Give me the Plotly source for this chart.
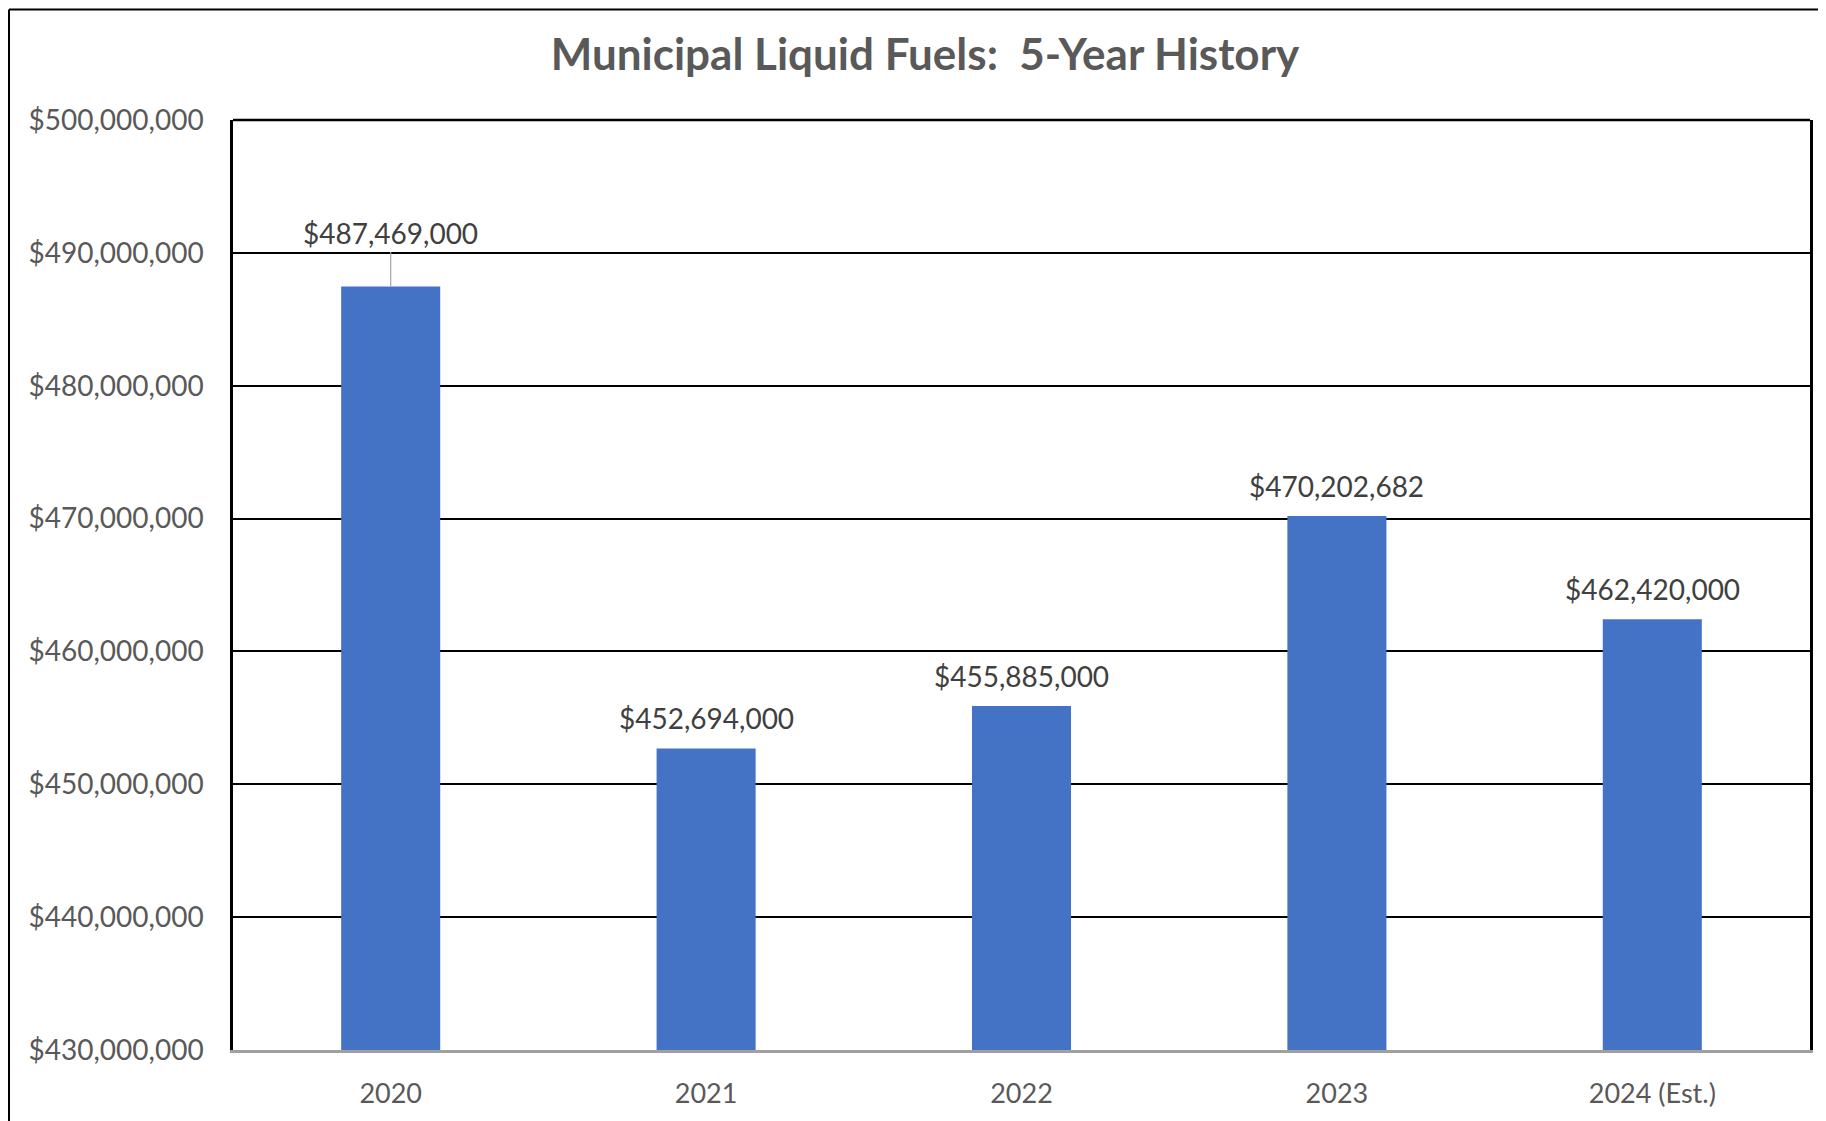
import plotly.graph_objects as go

categories = ["2020", "2021", "2022", "2023", "2024 (Est.)"]
values = [487469000, 452694000, 455885000, 470202682, 462420000]
y_tick_values = [430000000, 440000000, 450000000, 460000000, 470000000, 480000000, 490000000, 500000000]
title_text = "Municipal Liquid Fuels:&nbsp; 5-Year History"

# page body has an 8px margin, so figure coords = page coords - 8
W, H = 1818, 1113
L, R, T, B = 225, 16, 112, 67
pw = W - L - R
ph = H - T - B

fig = go.Figure()
fig.add_trace(go.Bar(
    x=categories, y=values,
    marker=dict(color="#4472C4", line=dict(width=0)),
    hoverinfo="x+y",
))

label_font = dict(family="Lato", size=28, color="#404040")
annotations = []
for i, v in enumerate(values):
    label = "${:,.0f}".format(v)
    if i == 0:
        annotations.append(dict(
            x=i, y=v, xref="x", yref="y", text=label,
            showarrow=True, arrowhead=0, arrowwidth=1.2, arrowcolor="#A6A6A6",
            ax=0, ay=-53, standoff=0, startstandoff=0,
            font=label_font,
        ))
    else:
        annotations.append(dict(
            x=i, y=v, xref="x", yref="y", text=label, showarrow=False,
            yanchor="middle", yshift=30,
            font=label_font,
        ))

frame_x = (1 - L) / pw
frame_y = (H - B - 1) / ph
shapes = [
    # plot area top border
    dict(type="line", xref="paper", yref="paper", x0=0, x1=1, y0=1, y1=1,
         line=dict(color="black", width=2.5)),
    # outer chart frame (left and top)
    dict(type="line", xref="paper", yref="paper",
         x0=frame_x, x1=frame_x, y0=-0.2, y1=frame_y,
         line=dict(color="black", width=2)),
    dict(type="line", xref="paper", yref="paper",
         x0=frame_x, x1=1.05, y0=frame_y, y1=frame_y,
         line=dict(color="black", width=2)),
]

fig.update_layout(
    width=W, height=H,
    margin=dict(l=L, r=R, t=T, b=B, pad=0),
    paper_bgcolor="white", plot_bgcolor="white",
    bargap=0.686,
    showlegend=False,
    title=dict(
        text=title_text, x=(917 - L) / pw, xref="paper", xanchor="center",
        y=1 - 47 / H, yref="container", yanchor="middle",
        font=dict(family="Lato", size=44, color="#595959", weight="bold"),
    ),
    xaxis=dict(
        type="category", range=[-0.5, 4.5],
        showline=True, linecolor="#A0A0A0", linewidth=2.5,
        showgrid=False, ticks="", ticklabelstandoff=18,
        tickfont=dict(family="Lato", size=27, color="#595959"),
        fixedrange=True,
    ),
    yaxis=dict(
        range=[430000000, 500000000], tickvals=y_tick_values,
        tickformat="$,.0f",
        showgrid=True, gridcolor="black", gridwidth=2,
        showline=True, linecolor="black", linewidth=2.5, mirror=True,
        zeroline=False, ticks="", ticklabelstandoff=21,
        tickfont=dict(family="Lato", size=28, color="#595959"),
        fixedrange=True,
    ),
    annotations=annotations,
    shapes=shapes,
)

fig.write_html("out.html")
